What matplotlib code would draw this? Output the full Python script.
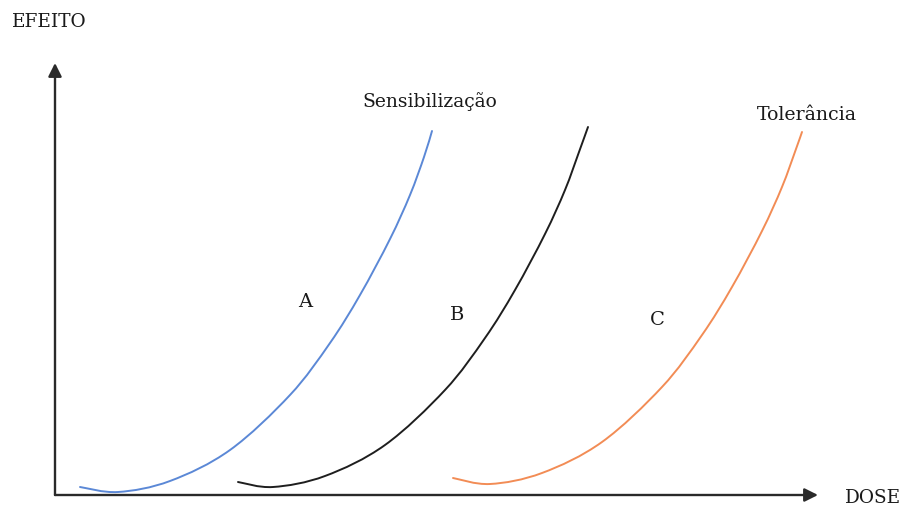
import matplotlib
matplotlib.use("Agg")
import matplotlib.pyplot as plt
from matplotlib.path import Path
from matplotlib.patches import PathPatch

# canvas in pixels (902 x 506), y grows downward like the picture
W, H = 902, 506

# curve points (pixel coords)
curve_a_x = [80, 118, 170, 230, 290, 330, 360, 390, 410, 424, 432]
curve_a_y = [488, 493, 482, 451, 396, 344, 296, 240, 196, 158, 132]

curve_b_x = [238, 273, 325, 385, 445, 485, 515, 545, 565, 579, 588]
curve_b_y = [483, 488, 477, 446, 391, 339, 291, 235, 191, 153, 128]

curve_c_x = [453, 490, 542, 602, 662, 702, 732, 762, 782, 796, 802]
curve_c_y = [479, 485, 474, 443, 388, 336, 288, 232, 188, 150, 133]

curve_colors = ['#5b88d6', '#1e1e1e', '#f28c55']

labels = ['A', 'B', 'C']
label_x = [305, 457, 657]
label_y = [302, 315, 320]

# axis geometry
origin = (55, 496)
y_tip = (55, 64)
x_tip = (818, 496)


def smooth_path(xs, ys):
    """Cubic bezier path going through every read point (Catmull-Rom handles)."""
    pts = list(zip(xs, ys))
    n = len(pts)
    verts = [pts[0]]
    codes = [Path.MOVETO]
    for i in range(n - 1):
        p0 = pts[max(i - 1, 0)]
        p1 = pts[i]
        p2 = pts[i + 1]
        p3 = pts[min(i + 2, n - 1)]
        c1 = (p1[0] + (p2[0] - p0[0]) / 6, p1[1] + (p2[1] - p0[1]) / 6)
        c2 = (p2[0] - (p3[0] - p1[0]) / 6, p2[1] - (p3[1] - p1[1]) / 6)
        verts += [c1, c2, p2]
        codes += [Path.CURVE4] * 3
    return Path(verts, codes)


fig = plt.figure(figsize=(W / 100, H / 100), dpi=100)
ax = fig.add_axes([0, 0, 1, 1])
ax.set_xlim(0, W)
ax.set_ylim(H, 0)
ax.axis('off')

font = dict(family='DejaVu Serif', color='#1a1a1a')

# axes with arrow heads
for tip in (y_tip, x_tip):
    ax.annotate('', xy=tip, xytext=origin,
                arrowprops=dict(arrowstyle='-|>', mutation_scale=20,
                                lw=1.7, color='#2a2a2a', shrinkA=0, shrinkB=0))

for xs, ys, c in zip([curve_a_x, curve_b_x, curve_c_x],
                     [curve_a_y, curve_b_y, curve_c_y], curve_colors):
    ax.add_patch(PathPatch(smooth_path(xs, ys), fill=False, edgecolor=c,
                           lw=1.4, capstyle='round'))

for lab, x, y in zip(labels, label_x, label_y):
    ax.text(x, y, lab, ha='center', va='center', fontsize=14, **font)

ax.text(12, 22, 'EFEITO', ha='left', va='center', fontsize=13.3, **font)
ax.text(845, 498, 'DOSE', ha='left', va='center', fontsize=13.3, **font)
ax.text(362, 102, 'Sensibilização', ha='left', va='center', fontsize=13.5, **font)
ax.text(757, 115, 'Tolerância', ha='left', va='center', fontsize=13.6, **font)

fig.savefig('out.png', dpi=100, facecolor='white')
